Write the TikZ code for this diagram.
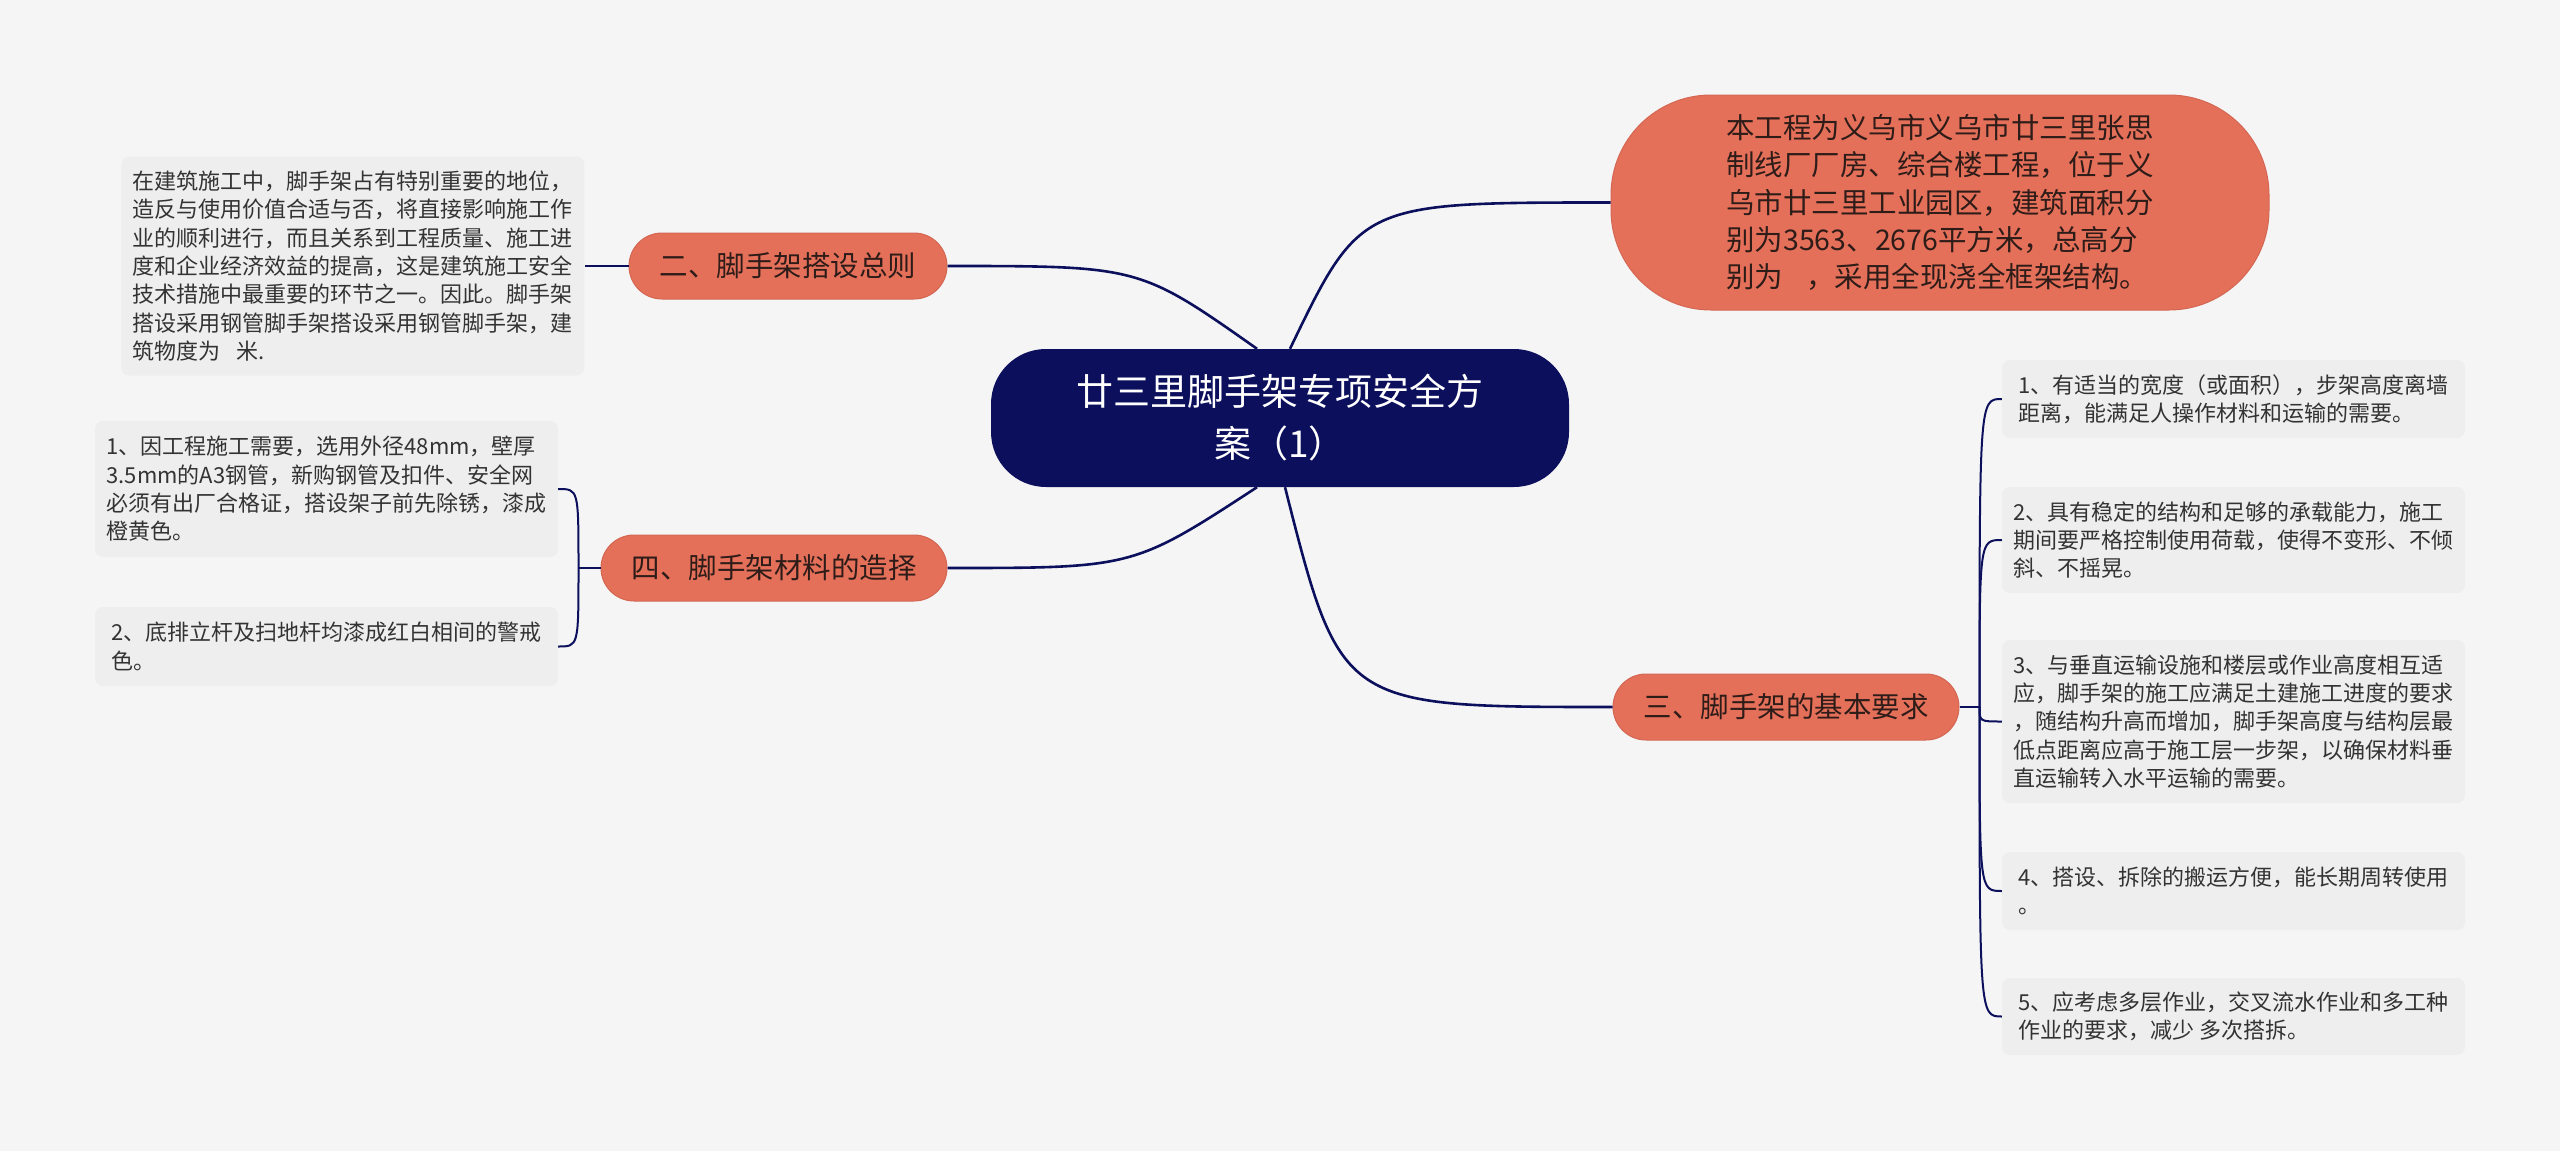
\documentclass[tikz,border=0pt]{standalone}
\usepackage{fontspec}
\setmainfont{Noto Sans CJK SC}
\usepackage{tikz}
\usetikzlibrary{positioning}
\usetikzlibrary{calc}
\usepackage{xcolor}
\definecolor{navy}{HTML}{0B0F5C}
\definecolor{coral}{HTML}{E5705A}
\definecolor{paper}{HTML}{F5F5F5}
\definecolor{leafbg}{HTML}{EEEEEE}
\definecolor{ink}{HTML}{2E1C19}

\begin{document}
\begin{tikzpicture}[x=1pt, y=-1pt,
  rootbox/.style={fill=navy, text=white, rounded corners=55pt, minimum width=578pt, minimum height=138pt, align=center, font=\fontsize{37pt}{52pt}\selectfont},
  topic/.style={fill=coral, draw=coral!92!black, line width=1pt, text=ink, rounded corners=33pt, minimum height=66pt, align=center, font=\fontsize{28.5pt}{37.7pt}\selectfont},
  infobox/.style={fill=coral, draw=coral!92!black, line width=1pt, text=ink, rounded corners=100pt, minimum width=658pt, minimum height=215pt, align=left, font=\fontsize{28.5pt}{37.2pt}\selectfont},
  leaf/.style={fill=leafbg, text=black!80, rounded corners=8pt, minimum width=463pt, align=left, font=\fontsize{22pt}{28.3pt}\selectfont},
  link/.style={draw=navy, line width=2.6pt},
  twig/.style={draw=navy, line width=2pt}
]
\useasboundingbox (0,0) rectangle (2560,1151);
\fill[paper] (0,0) rectangle (2560,1151);

\node[rootbox] (root) at (1280,418) {廿三里脚手架专项安全方\\案（1）};
\node[infobox] (info) at (1940,202.5) {本工程为义乌市义乌市廿三里张思\\制线厂厂房、综合楼工程，位于义\\乌市廿三里工业园区，建筑面积分\\别为3563、2676平方米，总高分\\别为\hspace{0.8em}，采用全现浇全框架结构。};

\node[topic, minimum width=318pt] (b2) at (788,266) {二、脚手架搭设总则};
\node[leaf, minimum height=219pt, left=44pt of b2] (b2t) {在建筑施工中，脚手架占有特别重要的地位，\\造反与使用价值合适与否，将直接影响施工作\\业的顺利进行，而且关系到工程质量、施工进\\度和企业经济效益的提高，这是建筑施工安全\\技术措施中最重要的环节之一。因此。脚手架\\搭设采用钢管脚手架搭设采用钢管脚手架，建\\筑物度为\hspace{0.7em}米.};

\node[topic, minimum width=346pt] (b4) at (774,568) {四、脚手架材料的造择};
\node[leaf, minimum height=136pt] (b4a) at (326.5,489) {1、因工程施工需要，选用外径48mm，壁厚\\3.5mm的A3钢管，新购钢管及扣件、安全网\\必须有出厂合格证，搭设架子前先除锈，漆成\\橙黄色。};
\node[leaf, minimum height=79pt] (b4b) at (326.5,646.5) {2、底排立杆及扫地杆均漆成红白相间的警戒\\色。};

\node[topic, minimum width=346pt] (b3) at (1786,707) {三、脚手架的基本要求};
\node[leaf, minimum height=78pt] (r1) at (2233.5,399) {1、有适当的宽度（或面积），步架高度离墙\\距离，能满足人操作材料和运输的需要。};
\node[leaf, minimum height=106pt] (r2) at (2233.5,540) {2、具有稳定的结构和足够的承载能力，施工\\期间要严格控制使用荷载，使得不变形、不倾\\斜、不摇晃。};
\node[leaf, minimum height=163pt] (r3) at (2233.5,721.5) {3、与垂直运输设施和楼层或作业高度相互适\\应，脚手架的施工应满足土建施工进度的要求\\，随结构升高而增加，脚手架高度与结构层最\\低点距离应高于施工层一步架，以确保材料垂\\直运输转入水平运输的需要。};
\node[leaf, minimum height=78pt] (r4) at (2233.5,891) {4、搭设、拆除的搬运方便，能长期周转使用\\。};
\node[leaf, minimum height=77pt] (r5) at (2233.5,1016.5) {5、应考虑多层作业，交叉流水作业和多工种\\作业的要求，减少 多次搭拆。};

\coordinate (rt1) at ([xshift=-23pt]root.north);
\coordinate (rt2) at ([xshift=10pt]root.north);
\coordinate (rb1) at ([xshift=-23pt]root.south);
\coordinate (rb2) at ([xshift=5pt]root.south);
\coordinate (j4) at ([xshift=-22pt]b4.west);
\coordinate (j3) at ([xshift=20pt]b3.east);

\draw[link] (b2.east) .. controls ($(rt1 |- b2.east)!0.38!(b2.east)$) .. (rt1);
\draw[link] (rt2) .. controls ($(rt2 |- info.west)!0.22!(info.west)$) .. (info.west);
\draw[link] (b4.east) .. controls ($(rb1 |- b4.east)!0.40!(b4.east)$) .. (rb1);
\draw[link] (rb2) .. controls ($(rb2 |- b3.west)!0.17!(b3.west)$) .. (b3.west);

\draw[twig] (b2.west) -- (b2t.east);
\draw[twig] (b4.west) -- (j4);
\draw[twig] (j4) .. controls (j4 |- b4a.east) .. (b4a.east);
\draw[twig] (j4) .. controls (j4 |- b4b.east) .. (b4b.east);
\draw[twig] (b3.east) -- (j3);
\foreach \k in {r1,r2,r3,r4,r5}
  \draw[twig] (j3) .. controls (j3 |- \k.west) .. (\k.west);

\end{tikzpicture}
\end{document}
